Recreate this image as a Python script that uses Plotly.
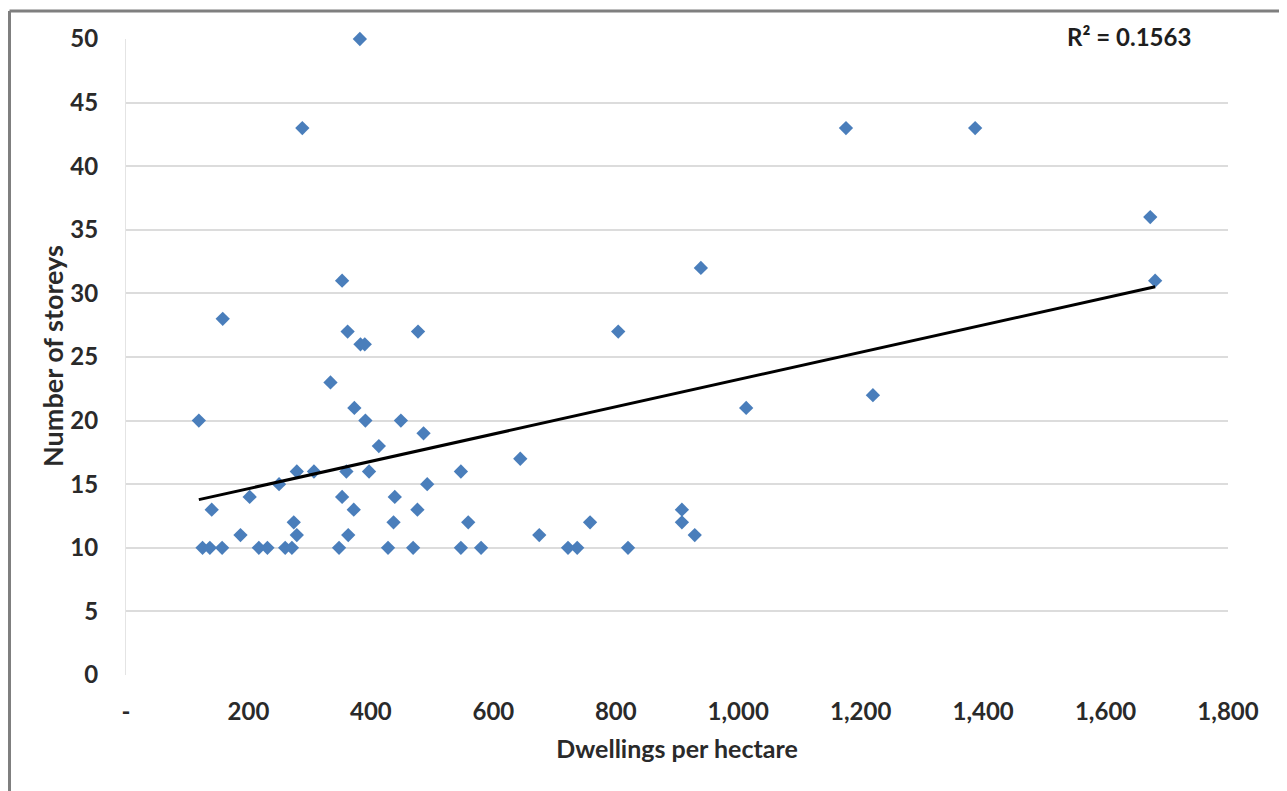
import numpy as np
import plotly.graph_objects as go

# Dwellings per hectare (x) and number of storeys (y)
dwellings = [382, 288, 1176, 1387, 1673, 1681, 939, 353, 158, 362, 477, 804,
             383, 390, 334, 1220, 373, 1013, 119, 391, 449, 486, 413, 644,
             279, 307, 360, 397, 547, 250, 492, 202, 353, 439, 140, 372,
             476, 908, 274, 437, 559, 758, 908, 187, 279, 363, 675, 929,
             125, 137, 157, 217, 231, 260, 271, 348, 428, 469, 547, 580,
             722, 737, 820]
storeys = [50, 43, 43, 43, 36, 31, 32, 31, 28, 27, 27, 27,
           26, 26, 23, 22, 21, 21, 20, 20, 20, 19, 18, 17,
           16, 16, 16, 16, 16, 15, 15, 14, 14, 14, 13, 13,
           13, 13, 12, 12, 12, 12, 12, 11, 11, 11, 11, 11,
           10, 10, 10, 10, 10, 10, 10, 10, 10, 10, 10, 10,
           10, 10, 10]

x_ticks = [0, 200, 400, 600, 800, 1000, 1200, 1400, 1600, 1800]
x_ticklabels = ["-", "200", "400", "600", "800", "1,000", "1,200", "1,400", "1,600", "1,800"]
y_ticks = [0, 5, 10, 15, 20, 25, 30, 35, 40, 45, 50]
r2_label = "R² = 0.1563"

x = np.array(dwellings, dtype=float)
y = np.array(storeys, dtype=float)
slope, intercept = np.polyfit(x, y, 1)
trend_x = [x.min(), x.max()]
trend_y = [slope * v + intercept for v in trend_x]

FONT = "Lato"
TXT = "#2a2a2a"

fig = go.Figure()
fig.add_trace(go.Scatter(
    x=dwellings, y=storeys, mode="markers",
    marker=dict(symbol="diamond", size=11, color="#4a7ebb", line=dict(width=0)),
    showlegend=False, hoverinfo="x+y", cliponaxis=False,
))
fig.add_trace(go.Scatter(
    x=trend_x, y=trend_y, mode="lines",
    line=dict(color="black", width=3), showlegend=False, hoverinfo="skip",
))

# page body adds an 8px offset
OFF = 8
W, H = 1287, 791
pw, ph = 1102, 636
L, T = 126 - OFF, 39 - OFF
R = W - L - pw
B = H - T - ph

def px_to_xf(px):
    return (px - OFF - L) / pw

def py_to_yf(py):
    return (T + OFF + ph - py) / ph

fig.update_layout(
    width=W, height=H,
    margin=dict(l=L, r=R, t=T, b=B, pad=0),
    paper_bgcolor="white", plot_bgcolor="white",
    font=dict(family=FONT, color=TXT),
    xaxis=dict(
        range=[0, 1800], tickvals=x_ticks, ticktext=x_ticklabels,
        showgrid=False, zeroline=False, showline=False,
        tickfont=dict(family=FONT, size=24, color=TXT, weight="bold"),
        ticklabelstandoff=20,
        title=dict(text="Dwellings per hectare", standoff=16,
                   font=dict(family=FONT, size=25, color=TXT, weight="bold")),
        fixedrange=True,
    ),
    yaxis=dict(
        range=[0, 50], tickvals=y_ticks,
        showgrid=True, gridcolor="#dcdcdc", gridwidth=1.6,
        zeroline=False, showline=True, linecolor="#e4e4e4", linewidth=1,
        tickfont=dict(family=FONT, size=24, color=TXT, weight="bold"),
        ticklabelstandoff=22,
        fixedrange=True,
    ),
    annotations=[
        dict(text=r2_label, xref="paper", yref="paper",
             x=px_to_xf(1193), y=py_to_yf(37), xanchor="right", yanchor="middle",
             showarrow=False, font=dict(family=FONT, size=24, color="#1e1e1e", weight="bold")),
        dict(text="Number of storeys", xref="paper", yref="paper",
             x=px_to_xf(53), y=py_to_yf(356), xanchor="center", yanchor="middle",
             textangle=-90, showarrow=False,
             font=dict(family=FONT, size=27, color=TXT, weight="bold")),
    ],
    shapes=[
        dict(type="line", xref="paper", yref="paper",
             x0=px_to_xf(9.5), x1=px_to_xf(1300), y0=py_to_yf(11), y1=py_to_yf(11),
             line=dict(color="#7f7f7f", width=3)),
        dict(type="line", xref="paper", yref="paper",
             x0=px_to_xf(9.5), x1=px_to_xf(9.5), y0=py_to_yf(11), y1=py_to_yf(800),
             line=dict(color="#7f7f7f", width=3)),
    ],
)

fig.write_html("out.html")
